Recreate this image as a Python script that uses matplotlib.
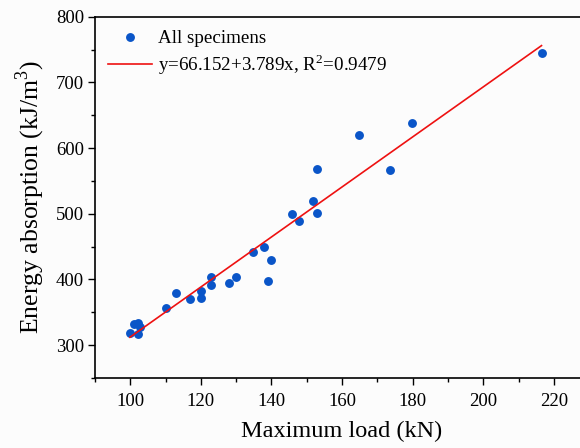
import numpy as np
import matplotlib
matplotlib.use("Agg")
import matplotlib.pyplot as plt
from matplotlib.ticker import MultipleLocator

plt.rcParams["font.family"] = ["Liberation Serif", "DejaVu Serif"]
plt.rcParams["mathtext.fontset"] = "custom"
plt.rcParams["mathtext.rm"] = "Liberation Serif"

# specimens: maximum load (kN) vs energy absorption (kJ/m^3)
LOAD = [100.0, 101.1, 102.1, 102.7, 102.1, 110.1, 112.9, 116.9, 120.0, 120.0,
        122.9, 122.9, 127.9, 130.0, 134.8, 137.9, 139.9, 138.9,
        145.7, 147.9, 151.8, 152.8, 152.8, 164.7, 173.7, 179.7, 216.5]
ENERGY = [319, 332, 334, 327, 317, 356, 380, 370, 383, 372,
          404, 391, 394, 403, 442, 449, 430, 397,
          500, 489, 519, 501, 568, 620, 566, 638, 744]

# fitted line as drawn in the figure
FIT_X = [99.9, 216.5]
FIT_Y = [312, 756]

fig = plt.figure(figsize=(5.8, 4.48), dpi=100)
fig.patch.set_facecolor("#fcfcfc")
ax = fig.add_axes([0.1638, 0.1563, 0.852, 0.8064])
ax.set_facecolor("#fcfcfc")

ax.plot(LOAD, ENERGY, "o", color="#0a55c8", ms=6.4, mew=0, label="All specimens",
        zorder=3)
ax.plot(FIT_X, FIT_Y, color="#ee1111", lw=1.2,
        label=r"y=66.152+3.789x, R$^2$=0.9479", zorder=4)

ax.set_xlim(90, 230)
ax.set_ylim(250, 800)
ax.xaxis.set_major_locator(MultipleLocator(20))
ax.xaxis.set_minor_locator(MultipleLocator(10))
ax.yaxis.set_major_locator(MultipleLocator(100))
ax.yaxis.set_minor_locator(MultipleLocator(50))
ax.tick_params(which="both", direction="out", width=1.0, labelsize=13.5)
ax.tick_params(which="major", length=5)
ax.tick_params(which="minor", length=3)
ax.tick_params(axis="x", which="major", pad=6)
ax.tick_params(axis="y", which="major", pad=3)
ax.tick_params(top=False, right=False)
for s in ax.spines.values():
    s.set_linewidth(1.2)

ax.set_xlabel("Maximum load (kN)", fontsize=17.5, labelpad=8)
ax.set_ylabel(r"Energy absorption (kJ/m$^3$)", fontsize=18.5, labelpad=6)

ax.legend(loc="upper left", frameon=False, fontsize=13.7, handlelength=2.3,
          handletextpad=0.3, borderaxespad=0.3, labelspacing=0.25)

fig.savefig("out.png", dpi=100, facecolor=fig.get_facecolor())
